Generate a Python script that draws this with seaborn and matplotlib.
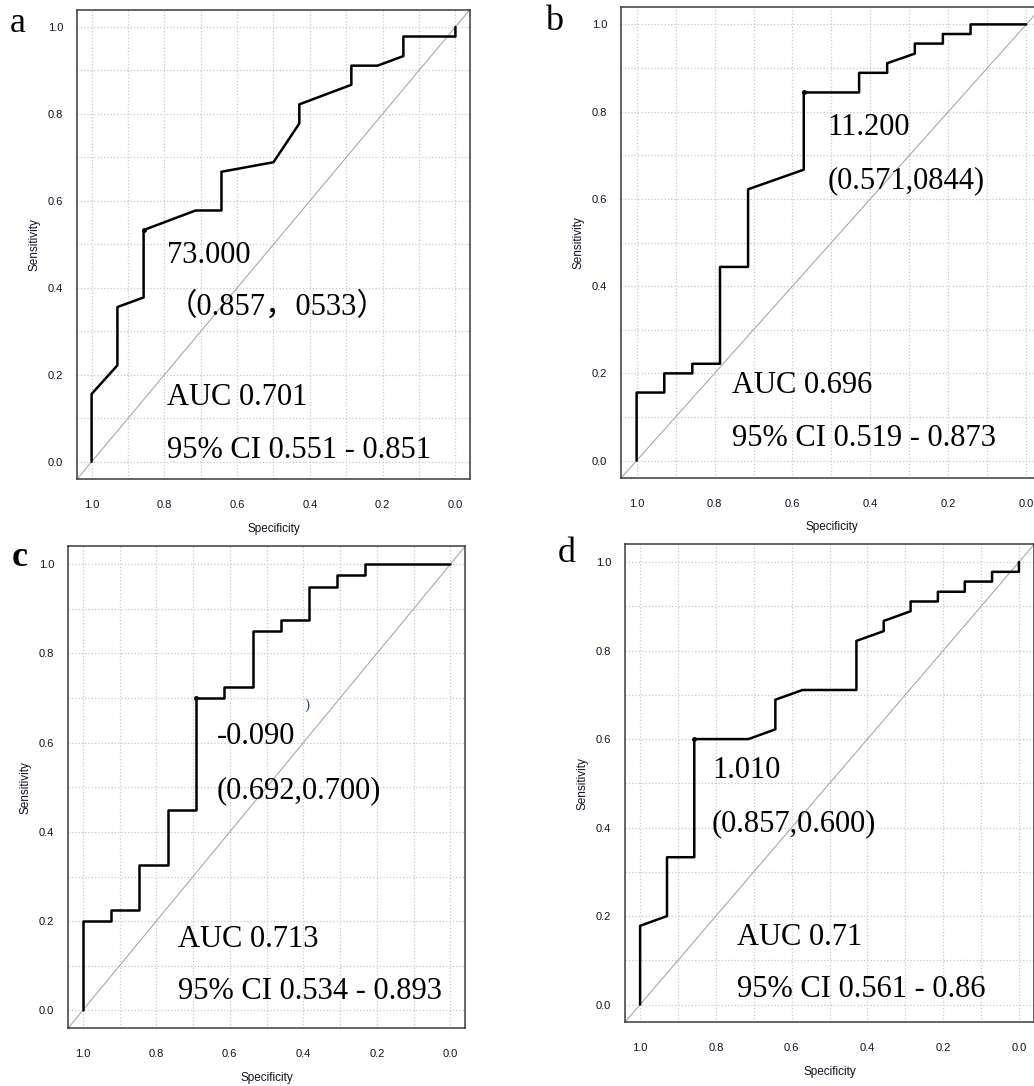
import numpy as np
import matplotlib
matplotlib.use("Agg")
import matplotlib.pyplot as plt
import seaborn as sns

# ---- data ----
spec_a = [1.0, 1.0, 0.929, 0.929, 0.857, 0.857, 0.714, 0.643, 0.643, 0.5, 0.429, 0.429,
          0.286, 0.286, 0.214, 0.143, 0.143, 0.0, 0.0]
sens_a = [0.0, 0.156, 0.222, 0.356, 0.378, 0.533, 0.578, 0.578, 0.667, 0.689, 0.778, 0.822,
          0.867, 0.911, 0.911, 0.933, 0.978, 0.978, 1.0]
best_a = (0.857, 0.533)
text_a = ["73.000", "（0.857，0533）", "AUC 0.701", "95% CI 0.551 - 0.851"]

spec_b = [1.0, 1.0, 0.929, 0.929, 0.857, 0.857, 0.786, 0.786, 0.714, 0.714, 0.571, 0.571,
          0.429, 0.429, 0.357, 0.357, 0.286, 0.286, 0.214, 0.214, 0.143, 0.143, 0.0]
sens_b = [0.0, 0.156, 0.156, 0.2, 0.2, 0.222, 0.222, 0.444, 0.444, 0.622, 0.667, 0.844,
          0.844, 0.889, 0.889, 0.911, 0.933, 0.956, 0.956, 0.978, 0.978, 1.0, 1.0]
best_b = (0.571, 0.844)
text_b = ["11.200", "(0.571,0844)", "AUC 0.696", "95% CI 0.519 - 0.873"]

spec_c = [1.0, 1.0, 0.923, 0.923, 0.846, 0.846, 0.769, 0.769, 0.692, 0.692, 0.615, 0.615,
          0.538, 0.538, 0.462, 0.462, 0.385, 0.385, 0.308, 0.308, 0.231, 0.231, 0.0]
sens_c = [0.0, 0.2, 0.2, 0.225, 0.225, 0.325, 0.325, 0.45, 0.45, 0.7, 0.7, 0.725,
          0.725, 0.85, 0.85, 0.875, 0.875, 0.95, 0.95, 0.975, 0.975, 1.0, 1.0]
best_c = (0.692, 0.700)
text_c = ["-0.090", "(0.692,0.700)", "AUC 0.713", "95% CI 0.534 - 0.893"]

spec_d = [1.0, 1.0, 0.929, 0.929, 0.857, 0.857, 0.714, 0.643, 0.643, 0.571, 0.429, 0.429,
          0.357, 0.357, 0.286, 0.286, 0.214, 0.214, 0.143, 0.143, 0.071, 0.071, 0.0, 0.0]
sens_d = [0.0, 0.178, 0.2, 0.333, 0.333, 0.6, 0.6, 0.622, 0.689, 0.711, 0.711, 0.822,
          0.844, 0.867, 0.889, 0.911, 0.911, 0.933, 0.933, 0.956, 0.956, 0.978, 0.978, 1.0]
best_d = (0.857, 0.600)
text_d = ["1.010", "(0.857,0.600)", "AUC 0.71", "95% CI 0.561 - 0.86"]

sns.set_style("white")
plt.rcParams['font.family'] = ['Liberation Sans', 'DejaVu Sans']
plt.rcParams['text.color'] = 'black'

fig = plt.figure(figsize=(10.34, 10.86), dpi=100)

panels = [
    # data, label, axes rect, text positions (cut x, y1, y2, auc x, y3, y4)
    (spec_a, sens_a, best_a, text_a, "a", [0.0745, 0.5587, 0.380, 0.4325],
     (0.794, 0.458, 0.339, 0.794, 0.130, 0.008)),
    (spec_b, sens_b, best_b, text_b, "b", [0.6006, 0.5598, 0.407, 0.4338],
     (0.51, 0.747, 0.624, 0.756, 0.154, 0.033)),
    (spec_c, sens_c, best_c, text_c, "c", [0.0658, 0.0532, 0.384, 0.4437],
     (0.636, 0.597, 0.475, 0.742, 0.141, 0.026)),
    (spec_d, sens_d, best_d, text_d, "d", [0.6044, 0.0587, 0.3957, 0.440],
     (0.81, 0.513, 0.392, 0.744, 0.135, 0.017)),
]

serif = ['Liberation Serif', 'Noto Sans CJK SC', 'DejaVu Serif']

for spec, sens, best, txt, lab, rect, tp in panels:
    ax = fig.add_axes(rect)
    ax.set_xlim(1.04, -0.04)
    ax.set_ylim(-0.04, 1.04)

    # light dotted grid every 0.1
    ax.set_xticks(np.arange(0, 1.01, 0.1), minor=True)
    ax.set_yticks(np.arange(0, 1.01, 0.1), minor=True)
    ax.grid(which='both', linestyle=':', color='#c8c8c8', linewidth=0.9)
    ax.set_axisbelow(True)

    ax.axline((1.0, 0.0), (0.0, 1.0), color='#a8a8a8', linewidth=0.8, zorder=2)
    sns.lineplot(x=spec, y=sens, sort=False, estimator=None, color='black',
                 linewidth=1.8, ax=ax, zorder=3)
    ax.plot([best[0]], [best[1]], 'o', color='black', markersize=2.5, zorder=4)

    ticks = [0.0, 0.2, 0.4, 0.6, 0.8, 1.0]
    ax.set_xticks(ticks)
    ax.set_yticks(ticks)
    ax.set_xticklabels([f"{t:.1f}" for t in ticks])
    ax.set_yticklabels([f"{t:.1f}" for t in ticks])
    ax.tick_params(which='minor', length=0)
    ax.tick_params(axis='x', which='major', length=6, width=0.9, pad=9,
                   labelsize=8, colors='#333333', labelcolor='#111122')
    ax.tick_params(axis='y', which='major', length=6.5, width=0.9, pad=3.4,
                   labelsize=8, colors='#333333', labelcolor='#111122')
    for s in ax.spines.values():
        s.set_color('#3a3a3a')
        s.set_linewidth(1.1)
        s.set_visible(True)
    ax.set_xlabel("Specificity", fontsize=8.5, labelpad=9, color='#111122')
    ax.set_ylabel("Sensitivity", fontsize=8.5, labelpad=5, color='#111122')

    for (x, y, s) in [(tp[0], tp[1], txt[0]), (tp[0], tp[2], txt[1]),
                      (tp[3], tp[4], txt[2]), (tp[3], tp[5], txt[3])]:
        ax.text(x, y, s, family=serif, fontsize=22, color='black',
                va='baseline', ha='left', zorder=5)

    if lab == "c":
        ax.text(0.396, 0.675, ")", family=serif, fontsize=11, color='#2a4a9a',
                va='baseline', ha='left')

# panel letters
fig.text(10 / 1034, 1 - 31.5 / 1086, "a", family=serif, fontsize=26, color='black', va='baseline')
fig.text(545 / 1034, 1 - 30 / 1086, "b", family=serif, fontsize=26, color='black', va='baseline')
fig.text(12 / 1034, 1 - 566 / 1086, "c", family=serif, fontsize=26, color='black', va='baseline',
         fontweight='bold')
fig.text(558 / 1034, 1 - 562 / 1086, "d", family=serif, fontsize=26, color='black', va='baseline')

fig.savefig("out.png", dpi=100)
